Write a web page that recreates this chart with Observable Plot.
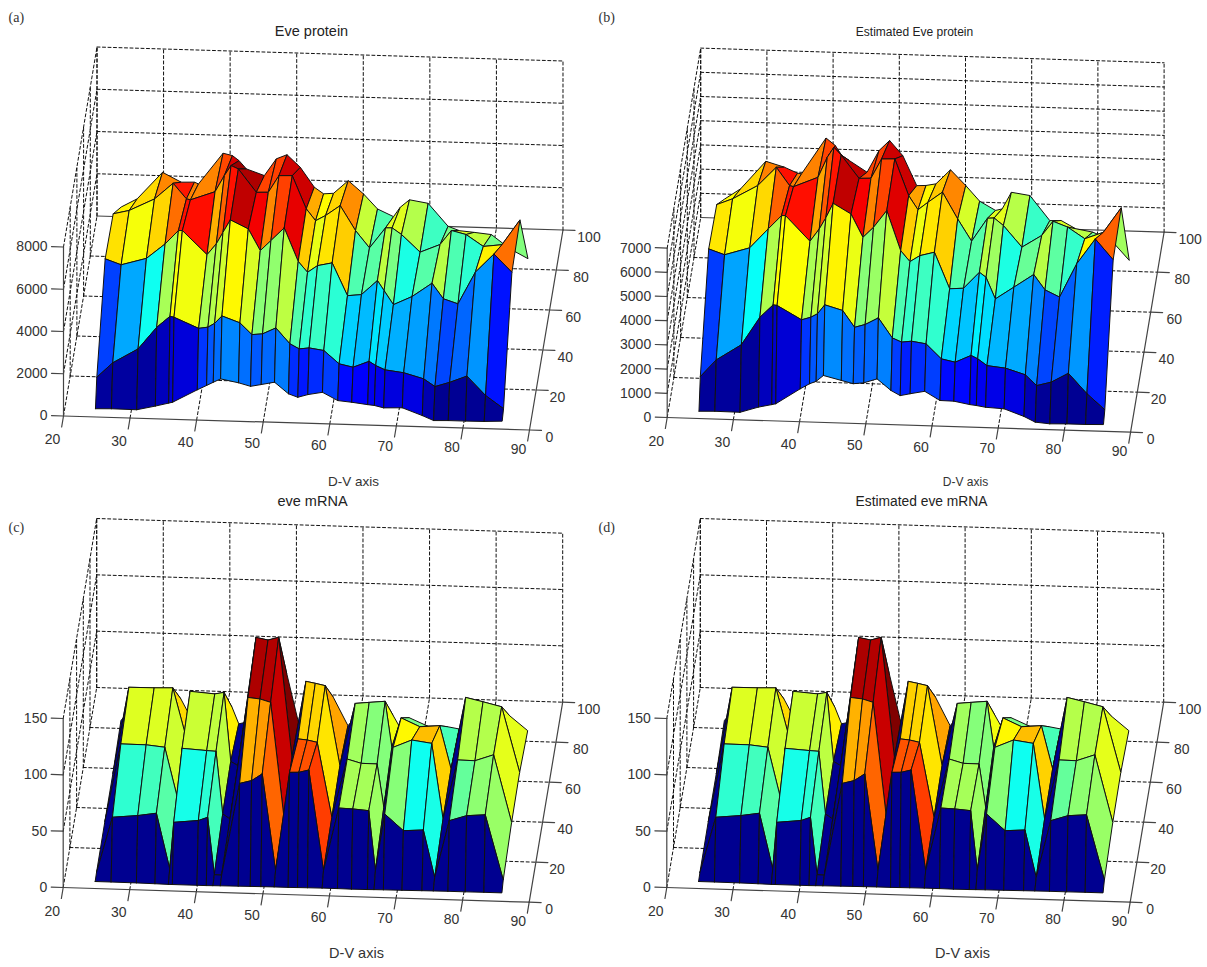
<!DOCTYPE html>
<html><head><meta charset="utf-8">
<style>html,body{margin:0;padding:0;background:#fff}svg{display:block}</style>
<script src="https://cdn.jsdelivr.net/npm/d3@7"></script>
<script src="https://cdn.jsdelivr.net/npm/@observablehq/plot@0.6"></script>
</head><body><div id="chart"></div>
<script>
// D-V axis positions of the measured columns
const dv = [24.8,27.2,31,33.8,35.8,36.4,40.1,41.5,42.5,43.6,46.3,48.1,49.7,51.7,53.8,55.2,56.7,58.9,61.2,63.3,65.7,66.7,68.1,70.9,73.9,75.6,77.8,80.4,83.2,85.9];
// second-axis positions of the rows
const rowPos = [0,4,29,53,77];

const eveProtein = [
 [390,410,400,600,760,810,1430,1650,1810,1980,1820,1670,1770,1900,1370,1220,1360,1490,1120,1060,970,940,840,870,530,310,330,330,340,380],
 [1500,2210,2900,3950,4490,4450,3960,4030,4220,4580,4280,3740,3790,4090,3360,3130,3190,3090,2480,2340,2640,2450,2260,2150,1890,1540,1760,2080,1190,590],
 [4740,4480,4820,5530,6180,6190,5080,5610,6160,6760,6360,5350,5840,6460,4890,4390,4720,4870,3340,3410,4100,3630,2980,3390,4050,3330,3110,4630,5520,4680],
 [4600,4780,5360,6130,5410,5370,5790,6570,7050,6900,5820,5840,6640,6660,5110,4560,4820,5310,4150,3350,4320,4330,4030,3220,3610,4290,4120,3580,3690,4890],
 [2650,3060,4350,3910,3930,3850,5340,5240,5010,4630,4340,5150,5360,4780,3860,3560,3600,4220,3610,2920,2580,3030,3400,3260,2200,2010,1950,1870,1220,780]
];
const estProtein = [
 [300,320,310,550,670,710,1360,1580,1690,1940,1760,1640,1690,1870,1410,1210,1300,1420,1060,1050,930,900,840,800,510,290,240,260,260,280],
 [1400,2110,2770,3930,4460,4440,3880,4000,4150,4530,4320,3640,3770,4060,3250,3090,3140,3050,2450,2330,2630,2500,2230,2150,1900,1470,1630,2020,1200,560],
 [4610,4390,4710,5520,6080,6090,5060,5580,6050,6660,6240,5290,5720,6430,4790,4350,4610,4770,3280,3320,4000,3800,2920,3430,3980,3360,3080,4480,5530,4690],
 [4460,4720,5300,6080,5340,5300,5720,6560,6980,6670,5730,5750,6560,6580,5080,4510,4830,5270,4180,3280,4250,4270,3970,3100,3610,4210,3990,3530,3820,4860],
 [2710,3150,4320,4100,3870,3850,5360,5060,4650,4460,4000,4910,5340,4730,3510,3530,3610,4210,3580,2950,2590,2660,3360,3250,2240,2260,1940,1820,1500,700]
];
const eveMrna = [
 [6.2,6.2,6.1,5.9,5.7,5.7,5.7,5.7,5.8,5.9,6.1,6.2,6.3,6.4,6.4,6.5,6.6,6.7,6.7,6.6,6.7,6.8,6.9,7,7.2,7.3,7.4,7.4,7.5,7.5],
 [7,56.6,58.8,61.4,12.4,53.8,56.1,59.2,8.5,8.3,90.2,93,99.3,13.8,101.4,101.7,104,15.1,71.1,70.7,69.6,16.6,67.1,52.8,54,12.2,63,67.9,69.2,11.9],
 [8,77.3,77.2,75.6,28.7,75.1,73.8,73.4,18,13.7,122.1,121.1,118.4,16.8,86.7,86,84.2,18,70.2,66.8,66.7,28.4,81.9,88.9,86.5,19.7,72.5,72.3,78.1,18.6],
 [8,85,85.2,85.7,42.2,83.1,81.5,83.1,22,18.4,132.8,130.8,133.5,27.4,95.2,93.7,91.9,21.3,77,78.3,79.7,39,65.4,58.1,59.6,21.5,85.4,82,78.1,20.4],
 [12.4,30,30,33.3,11.5,30,30,27.2,12.8,14.4,30,30,58.8,10,35,35,39,14.2,30,30,24.4,14.2,23,16,16,14.4,30,30,27.5,14.8]
];
const estMrna = eveMrna.map(r => r.slice());

const xTicks = [20,30,40,50,60,70,80,90];
const yTicks = [0,20,40,60,80,100];
const zTicksA = [0,2000,4000,6000,8000];
const zTicksB = [0,1000,2000,3000,4000,5000,6000,7000];
const zTicksC = [0,50,100,150];

const panels = [
 {letter:"(a)",lx:8,ly:17,title:"Eve protein",tx:311,ty:31,tfs:14.5,xlabel:"D-V axis",xlx:353,xly:481,xlfs:13.5,rows:eveProtein,zTicks:zTicksA,cmin:300,cmax:7250,floorBelow:0,ox:63,oy:415.5,kx:6.657,sl:0.2,kz:169/8000,backSolid:true},
 {letter:"(b)",lx:598,ly:17,title:"Estimated Eve protein",tx:914,ty:32,tfs:12,xlabel:"D-V axis",xlx:965,xly:482,xlfs:12,rows:estProtein,zTicks:zTicksB,cmin:240,cmax:7150,floorBelow:0,ox:666.7,oy:417,kx:6.62,sl:0.21,kz:169.4/7000,backSolid:true},
 {letter:"(c)",lx:8,ly:527,title:"eve mRNA",tx:312,ty:501,tfs:14.5,xlabel:"D-V axis",xlx:356,xly:953,xlfs:14.5,rows:eveMrna,zTicks:zTicksC,cmin:8,cmax:128,floorBelow:23,ox:62.7,oy:887,kx:6.657,sl:0.21,kz:169/150,backSolid:false},
 {letter:"(d)",lx:598,ly:527,title:"Estimated eve mRNA",tx:921,ty:501,tfs:13.8,xlabel:"D-V axis",xlx:962,xly:953,xlfs:14.5,rows:estMrna,zTicks:zTicksC,cmin:8,cmax:128,floorBelow:23,ox:666.3,oy:887,kx:6.62,sl:0.21,kz:169/150,backSolid:false}
];

const proj = (p,x,y,z) => [p.ox+(x-20)*p.kx+y*0.335, p.oy+(x-20)*p.sl-y*2-z*p.kz];

let gid = 0;
const quads = [], grid = [], axes = [], labels = [], zLabels = [];
function seg(store,p,a,b){const id=gid++;for(const q of [a,b]){const [sx,sy]=proj(p,...q);store.push({id,sx,sy});}}

for (const p of panels) {
  const zt = p.zTicks, top = zt[zt.length-1];
  for (const x of xTicks) {
    if (x>20 && x<90) seg(grid,p,[x,0,0],[x,100,0]);
    seg(grid,p,[x,100,0],[x,100,top]);
  }
  for (const y of yTicks) {
    if (y>0 && y<100) seg(grid,p,[20,y,0],[90,y,0]);
    if (y>0) seg(grid,p,[20,y,0],[20,y,top]);
  }
  seg(grid,p,[20,0,0],[20,100,0]);
  if (!p.backSolid) seg(grid,p,[20,100,0],[90,100,0]);
  for (const z of zt) {
    if (z>0) { seg(grid,p,[20,0,z],[20,100,z]); seg(grid,p,[20,100,z],[90,100,z]); }
  }
  seg(axes,p,[20,0,0],[90,0,0]);
  seg(axes,p,[90,0,0],[90,100,0]);
  seg(axes,p,[20,0,0],[20,0,top]);
  if (p.backSolid) seg(axes,p,[20,100,0],[90,100,0]);
  for (const x of xTicks) {
    seg(axes,p,[x,0,0],[x,-5.5,0]);
    const [sx,sy]=proj(p,x,0,0);
    labels.push({sx:sx-11,sy:sy+24-(x-20)*0.07,text:String(x)});
  }
  for (const y of yTicks) {
    seg(axes,p,[90,y,0],[91.8,y,0]);
    const [sx,sy]=proj(p,90,y,0);
    labels.push({sx:sx+20+y*0.06,sy:sy+7.5,text:String(y)});
  }
  for (const z of zt) {
    seg(axes,p,[20,0,z],[18.2,0,z]);
    const [sx,sy]=proj(p,20,0,z);
    zLabels.push({sx:sx-16,sy,text:String(z)});
  }
  // surface: back bands first, and low x first within a band, coloured by the first corner
  for (let r=p.rows.length-2;r>=0;r--) {
    for (let c=0;c<dv.length-1;c++) {
      const id=gid++;
      const v=p.rows[r][c];
      const t=v<p.floorBelow?0:Math.max(0,Math.min(1,(v-p.cmin)/(p.cmax-p.cmin)));
      for (const [rr,cc] of [[r,c],[r,c+1],[r+1,c+1],[r+1,c],[r,c]]) {
        const [sx,sy]=proj(p,dv[cc],rowPos[rr],p.rows[rr][cc]);
        quads.push({id,sx,sy,t});
      }
    }
  }
}

const sans = "Liberation Sans, Arial, sans-serif";
const chart = Plot.plot({
  width:1207,height:967,margin:0,
  style:{background:"#fff",fontFamily:sans},
  x:{domain:[0,1207],range:[0,1207],axis:null},
  y:{domain:[0,967],range:[0,967],axis:null},
  color:{type:"linear",domain:[0,0.11,0.36,0.61,0.86,1],range:["#000090","#0000ff","#00ffff","#ffff00","#ff0000","#800000"],interpolate:"rgb"},
  marks:[
    Plot.line(grid,{x:"sx",y:"sy",z:"id",stroke:"#111",strokeWidth:1,strokeDasharray:"3,2.5"}),
    Plot.line(axes,{x:"sx",y:"sy",z:"id",stroke:"#444",strokeWidth:1.2}),
    Plot.line(quads,{x:"sx",y:"sy",z:"id",fill:"t",stroke:"#111",strokeWidth:1,strokeLinejoin:"round"}),
    Plot.text(labels,{x:"sx",y:"sy",text:"text",fontSize:14,fill:"#333",textAnchor:"middle",fontFamily:sans}),
    Plot.text(zLabels,{x:"sx",y:"sy",text:"text",fontSize:14,fill:"#333",textAnchor:"end",fontFamily:sans}),
    ...panels.flatMap(p=>[
      Plot.text([p.letter],{x:()=>p.lx,y:()=>p.ly,text:d=>d,fontFamily:"Liberation Serif, serif",fontSize:14,fill:"#333",textAnchor:"start"}),
      Plot.text([p.title],{x:()=>p.tx,y:()=>p.ty,text:d=>d,fontSize:p.tfs,fill:"#222",textAnchor:"middle",fontFamily:sans}),
      Plot.text([p.xlabel],{x:()=>p.xlx,y:()=>p.xly,text:d=>d,fontSize:p.xlfs,fill:"#333",textAnchor:"middle",fontFamily:sans})
    ])
  ]
});
document.getElementById("chart").appendChild(chart);
</script></body></html>
